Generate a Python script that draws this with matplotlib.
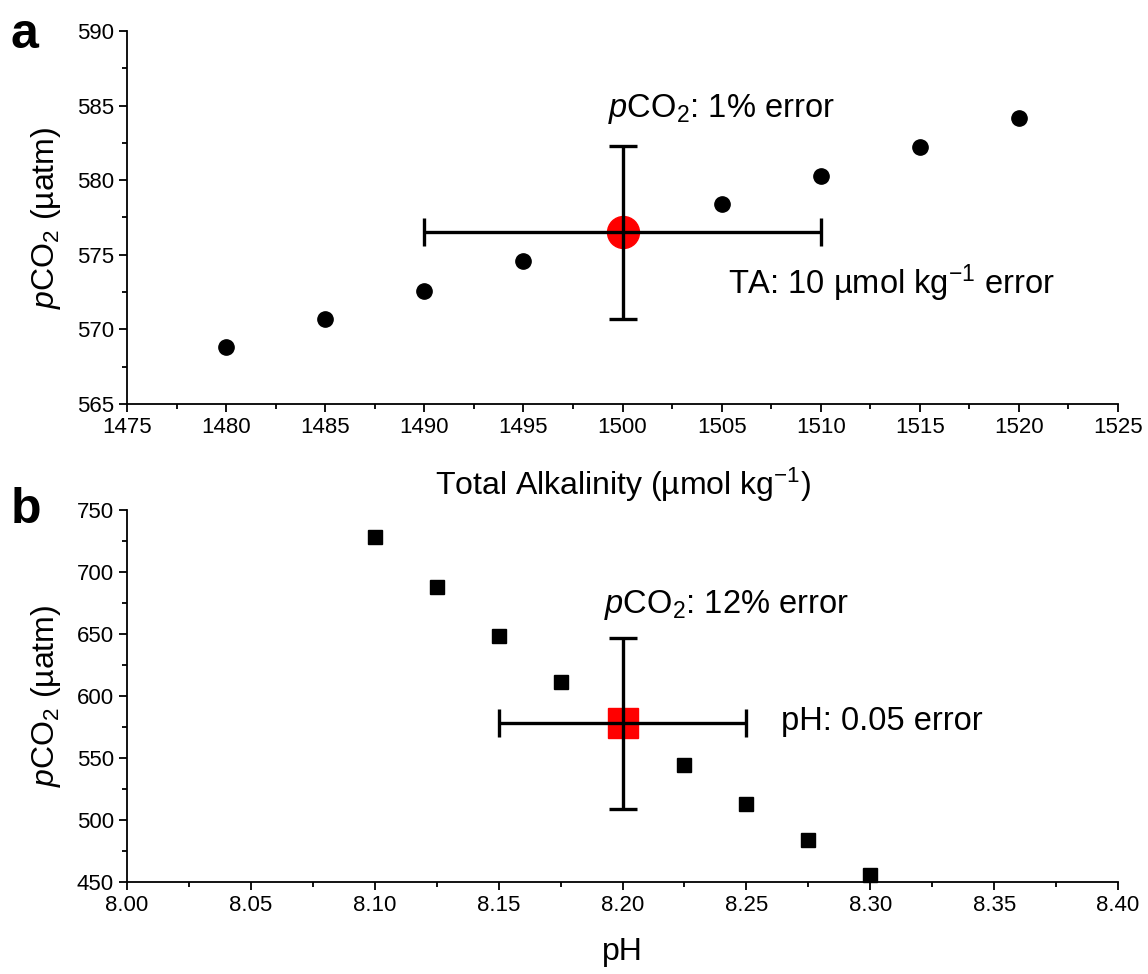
import matplotlib
matplotlib.use("Agg")
import matplotlib.pyplot as plt
from matplotlib.ticker import MultipleLocator, AutoMinorLocator

plt.rcParams['font.family'] = ['Liberation Sans', 'DejaVu Sans']
plt.rcParams['mathtext.fontset'] = 'custom'
plt.rcParams['mathtext.rm'] = 'Liberation Sans'
plt.rcParams['mathtext.it'] = 'Liberation Sans:italic'

# panel a: TA vs pCO2
ta = [1480, 1485, 1490, 1495, 1505, 1510, 1515, 1520]
pco2_ta = [568.8, 570.7, 572.6, 574.6, 578.4, 580.3, 582.2, 584.2]
ta_ref = 1500
pco2_ta_ref = 576.5
ta_err = 10
pco2_ta_err = 5.77

# panel b: pH vs pCO2
ph = [8.10, 8.125, 8.15, 8.175, 8.225, 8.25, 8.275, 8.30]
pco2_ph = [728, 688, 648, 611, 544, 513, 484, 456]
ph_ref = 8.20
pco2_ph_ref = 578
ph_err = 0.05
pco2_ph_err = 69

fig = plt.figure(figsize=(11.48, 9.74), dpi=100)
ax1 = fig.add_axes([0.1106, 0.5852, 0.8633, 0.383])
ax2 = fig.add_axes([0.1106, 0.0945, 0.8633, 0.382])


def style(ax):
    for s in ['top', 'right']:
        ax.spines[s].set_visible(False)
    for s in ['left', 'bottom']:
        ax.spines[s].set_linewidth(1.3)
    ax.tick_params(which='major', direction='out', length=6, width=1.3, labelsize=16)
    ax.tick_params(which='minor', direction='out', length=3.6, width=1.3)
    ax.xaxis.set_minor_locator(AutoMinorLocator(2))
    ax.yaxis.set_minor_locator(AutoMinorLocator(2))


# --- a ---
ax1.plot(ta, pco2_ta, 'o', color='black', markersize=11, zorder=2)
ax1.plot([ta_ref], [pco2_ta_ref], 'o', color='#ff0000', markersize=23, zorder=2)
ax1.errorbar([ta_ref], [pco2_ta_ref], xerr=ta_err, yerr=pco2_ta_err, fmt='none',
             ecolor='black', elinewidth=2.4, capsize=10, capthick=2.4, zorder=3)
ax1.set_xlim(1475, 1525)
ax1.set_ylim(565, 590)
ax1.xaxis.set_major_locator(MultipleLocator(5))
ax1.yaxis.set_major_locator(MultipleLocator(5))
style(ax1)
ax1.set_xlabel('Total Alkalinity (µmol kg$^{-1}$)', fontsize=23, labelpad=20)
ax1.set_ylabel('$p$CO$_2$ (µatm)', fontsize=23, labelpad=10)
ax1.text(1505, 584.8, '$p$CO$_2$: 1% error', fontsize=23.5, ha='center', va='center')
ax1.text(1505.3, 573.1, 'TA: 10 µmol kg$^{-1}$ error', fontsize=23.5, ha='left', va='center')

# --- b ---
ax2.plot(ph, pco2_ph, 's', color='black', markersize=10, zorder=2)
ax2.plot([ph_ref], [pco2_ph_ref], 's', color='#ff0000', markersize=21, zorder=2)
ax2.errorbar([ph_ref], [pco2_ph_ref], xerr=ph_err, yerr=pco2_ph_err, fmt='none',
             ecolor='black', elinewidth=2.4, capsize=10, capthick=2.4, zorder=3)
ax2.set_xlim(8.0, 8.4)
ax2.set_ylim(450, 750)
ax2.xaxis.set_major_locator(MultipleLocator(0.05))
ax2.yaxis.set_major_locator(MultipleLocator(50))
ax2.xaxis.set_major_formatter(plt.FormatStrFormatter('%.2f'))
style(ax2)
ax2.set_xlabel('pH', fontsize=23, labelpad=15)
ax2.set_ylabel('$p$CO$_2$ (µatm)', fontsize=23, labelpad=10)
ax2.text(8.242, 673, '$p$CO$_2$: 12% error', fontsize=23.5, ha='center', va='center')
ax2.text(8.264, 579, 'pH: 0.05 error', fontsize=23.5, ha='left', va='center')

for ax in [ax1, ax2]:
    for p in ax.lines:
        p.set_clip_on(False)

fig.text(0.009, 0.9507, 'a', fontsize=36, fontweight='bold', va='baseline')
fig.text(0.009, 0.463, 'b', fontsize=36, fontweight='bold', va='baseline')

fig.savefig('out.png', dpi=100)
